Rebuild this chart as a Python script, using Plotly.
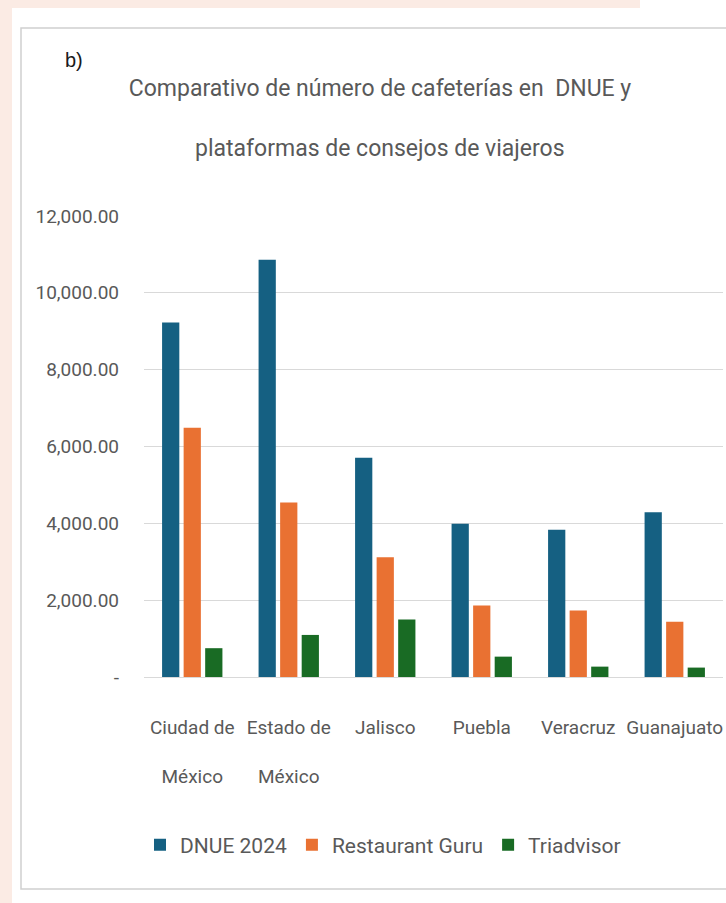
import plotly.graph_objects as go

categories = ["Ciudad de<br> <br>México", "Estado de<br> <br>México", "Jalisco", "Puebla", "Veracruz", "Guanajuato"]
dnue_2024 = [9226, 10860, 5710, 3990, 3830, 4290]
restaurant_guru = [6490, 4540, 3120, 1860, 1730, 1440]
triadvisor = [750, 1095, 1500, 530, 270, 245]
series_names = ["DNUE 2024", "Restaurant Guru", "Triadvisor"]
series_colors = ["#156082", "#E97132", "#196B24"]
y_tickvals = [0, 2000, 4000, 6000, 8000, 10000, 12000]
y_ticktext = ["-", "2,000.00", "4,000.00", "6,000.00", "8,000.00", "10,000.00", "12,000.00"]

FONT = "Roboto, Liberation Sans, Arial, sans-serif"
GREY = "#595959"
PINK = "#fbebe4"

W, H = 726, 903
PL, PR, PT, PB = 144, 3, 216, 226
PW, PH = W - PL - PR, H - PT - PB


def px_x(x):
    return (x - PL) / PW


def px_y(y):
    return (H - PB - y) / PH


fig = go.Figure()
for name, vals, col in zip(series_names, [dnue_2024, restaurant_guru, triadvisor], series_colors):
    fig.add_trace(go.Bar(name=name, x=categories, y=vals, marker_color=col, marker_line_width=0))

fig.update_layout(
    width=W, height=H,
    paper_bgcolor="white",
    plot_bgcolor="rgba(0,0,0,0)",
    barmode="group", bargap=0.33, bargroupgap=0.2,
    margin=dict(l=PL, r=PR, t=PT, b=PB),
    font=dict(family=FONT, color=GREY),
    title=dict(text="Comparativo de número de cafeterías en  DNUE y",
               x=380 / W, xanchor="center", y=1 - 88 / H, yanchor="middle",
               xref="container", yref="container",
               font=dict(family=FONT, size=23, color=GREY)),
    showlegend=True,
    legend=dict(orientation="h", x=383 / W, xanchor="center", xref="container",
                y=1 - 845 / H, yanchor="middle", yref="container",
                font=dict(family=FONT, size=21, color=GREY),
                itemwidth=30, tracegroupgap=0, bgcolor="rgba(0,0,0,0)"),
    xaxis=dict(showgrid=False, showline=False, zeroline=False,
               tickfont=dict(family=FONT, size=19, color=GREY),
               ticks="", ticklabelstandoff=37, tickangle=0),
    yaxis=dict(range=[0, 12000], tickvals=y_tickvals, ticktext=y_ticktext,
               showgrid=True, gridcolor="#d9d9d9", gridwidth=1,
               zeroline=True, zerolinecolor="#d9d9d9", zerolinewidth=1,
               showline=False, ticks="", ticklabelstandoff=24,
               tickfont=dict(family=FONT, size=19, color=GREY)),
    shapes=[
        dict(type="rect", xref="paper", yref="paper",
             x0=px_x(0), x1=px_x(12), y0=px_y(H), y1=px_y(0),
             fillcolor=PINK, line=dict(width=0), layer="below"),
        dict(type="rect", xref="paper", yref="paper",
             x0=px_x(0), x1=px_x(640), y0=px_y(8), y1=px_y(0),
             fillcolor=PINK, line=dict(width=0), layer="below"),
        dict(type="rect", xref="paper", yref="paper",
             x0=px_x(21), x1=px_x(W + 10), y0=px_y(889), y1=px_y(28),
             fillcolor="white", line=dict(color="#d0d0d0", width=1.5), layer="below"),
    ],
    annotations=[
        dict(text="plataformas de consejos de viajeros", xref="paper", yref="paper",
             x=px_x(380), y=px_y(148), xanchor="center", yanchor="middle",
             showarrow=False, font=dict(family=FONT, size=23, color=GREY)),
        dict(text="b)", xref="paper", yref="paper",
             x=px_x(74), y=px_y(60), xanchor="center", yanchor="middle",
             showarrow=False, font=dict(family="Liberation Sans, Arial, sans-serif", size=20, color="#1a1a1a")),
    ],
)
fig.write_html("out.html", config={"displayModeBar": False})

with open("out.html", "r", encoding="utf-8") as f:
    html = f.read()
html = html.replace("<body>", '<body style="margin:0;padding:0;">', 1)
with open("out.html", "w", encoding="utf-8") as f:
    f.write(html)
